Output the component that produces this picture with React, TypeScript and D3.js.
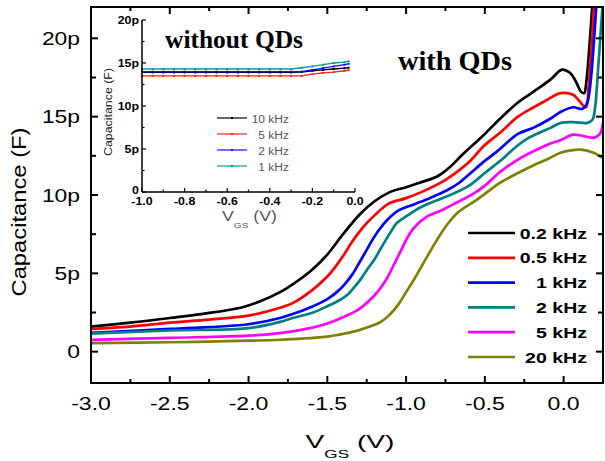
import React from 'react';
import * as d3 from 'd3';

// main plot: capacitance (pF) vs V_GS (V), one list per frequency
const c02kHz: [number, number][] = [
  [-3.0, 1.6], [-2.75, 1.85], [-2.5, 2.15], [-2.3, 2.4], [-2.05, 2.8], [-1.93, 3.2], [-1.8, 3.8],
  [-1.72, 4.3], [-1.6, 5.2], [-1.5, 6.2], [-1.4, 7.5], [-1.29, 8.8], [-1.2, 9.6], [-1.1, 10.2],
  [-1.0, 10.5], [-0.91, 10.8], [-0.8, 11.2], [-0.72, 11.8], [-0.64, 12.6], [-0.51, 13.8],
  [-0.4, 14.9], [-0.29, 15.9], [-0.19, 16.6], [-0.08, 17.4], [-0.01, 18.0], [0.04, 17.8],
  [0.08, 17.2], [0.11, 16.6], [0.13, 16.5], [0.145, 17.3], [0.16, 19.0], [0.185, 22.5]
];
const c05kHz: [number, number][] = [
  [-3.0, 1.45], [-2.75, 1.6], [-2.5, 1.85], [-2.25, 2.05], [-2.0, 2.3], [-1.8, 2.8], [-1.72, 3.1],
  [-1.6, 3.9], [-1.5, 4.8], [-1.45, 5.4], [-1.4, 6.1], [-1.35, 6.9], [-1.3, 7.6], [-1.25, 8.2],
  [-1.2, 8.7], [-1.145, 9.2], [-1.1, 9.5], [-1.0, 9.8], [-0.9, 10.2], [-0.76, 10.9], [-0.66, 11.6],
  [-0.59, 12.2], [-0.51, 13.1], [-0.45, 13.6], [-0.4, 14.0], [-0.29, 15.0], [-0.19, 15.6],
  [-0.1, 16.1], [-0.02, 16.5], [0.06, 16.4], [0.1, 16.0], [0.14, 15.6], [0.16, 17.1], [0.195, 22.5]
];
const c1kHz: [number, number][] = [
  [-3.0, 1.2], [-2.5, 1.45], [-2.0, 1.75], [-1.8, 2.15], [-1.72, 2.4], [-1.59, 2.9], [-1.5, 3.35],
  [-1.44, 3.8], [-1.39, 4.3], [-1.34, 4.95], [-1.29, 5.8], [-1.25, 6.5], [-1.21, 7.2], [-1.17, 7.8],
  [-1.12, 8.4], [-1.05, 9.0], [-0.95, 9.4], [-0.85, 9.8], [-0.74, 10.3], [-0.66, 10.8],
  [-0.59, 11.4], [-0.51, 12.1], [-0.42, 12.8], [-0.29, 13.9], [-0.19, 14.3], [-0.08, 14.9],
  [-0.02, 15.3], [0.06, 15.6], [0.12, 15.5], [0.15, 15.9], [0.17, 17.1], [0.21, 22.5]
];
const c2kHz: [number, number][] = [
  [-3.0, 1.15], [-2.5, 1.35], [-2.0, 1.5], [-1.8, 1.9], [-1.72, 2.15], [-1.59, 2.5], [-1.5, 2.9],
  [-1.42, 3.3], [-1.37, 3.65], [-1.33, 4.1], [-1.29, 4.6], [-1.25, 5.2], [-1.2, 5.9], [-1.16, 6.6],
  [-1.1, 7.6], [-1.06, 8.2], [-0.99, 8.7], [-0.91, 9.2], [-0.82, 9.6], [-0.72, 10.0], [-0.6, 10.6],
  [-0.5, 11.4], [-0.4, 12.2], [-0.3, 13.1], [-0.23, 13.6], [-0.147, 14.0], [-0.08, 14.3],
  [-0.02, 14.6], [0.06, 14.65], [0.15, 14.6], [0.183, 14.8], [0.2, 15.6], [0.22, 18.2], [0.25, 22.5]
];
const c5kHz: [number, number][] = [
  [-3.0, 0.75], [-2.5, 0.88], [-2.0, 1.02], [-1.8, 1.18], [-1.61, 1.5], [-1.5, 1.8], [-1.4, 2.2],
  [-1.3, 2.7], [-1.25, 3.1], [-1.2, 3.6], [-1.16, 4.1], [-1.12, 4.7], [-1.08, 5.5], [-1.04, 6.3],
  [-0.99, 7.3], [-0.95, 7.9], [-0.87, 8.6], [-0.78, 9.0], [-0.7, 9.4], [-0.57, 10.1], [-0.5, 10.6],
  [-0.4, 11.5], [-0.3, 12.2], [-0.23, 12.6], [-0.147, 13.0], [-0.08, 13.3], [-0.02, 13.5],
  [0.06, 13.85], [0.11, 13.8], [0.19, 13.65], [0.23, 13.9], [0.25, 14.6]
];
const c20kHz: [number, number][] = [
  [-3.0, 0.55], [-2.5, 0.6], [-2.0, 0.7], [-1.8, 0.76], [-1.5, 0.96], [-1.37, 1.2], [-1.29, 1.4],
  [-1.16, 1.9], [-1.1, 2.4], [-1.05, 3.0], [-1.0, 3.8], [-0.95, 4.6], [-0.87, 6.0], [-0.8, 7.2],
  [-0.74, 8.1], [-0.67, 8.9], [-0.55, 9.7], [-0.47, 10.3], [-0.4, 10.8], [-0.29, 11.4],
  [-0.19, 11.9], [-0.1, 12.3], [-0.02, 12.7], [0.05, 12.85], [0.11, 12.9], [0.19, 12.7], [0.25, 12.35]
];

const mainLabels = ['0.2 kHz', '0.5 kHz', '1 kHz', '2 kHz', '5 kHz', '20 kHz'];
const mainColors = ['#000000', '#ff0000', '#0000ff', '#008080', '#ff00ff', '#808000'];
const mainSeries = [c02kHz, c05kHz, c1kHz, c2kHz, c5kHz, c20kHz];

// inset: without QDs
const insetV = [-1.0, -0.95, -0.9, -0.85, -0.8, -0.75, -0.7, -0.65, -0.6, -0.55, -0.5, -0.45, -0.4, -0.35, -0.3, -0.25, -0.2, -0.15, -0.1, -0.05, -0.03];
const in10kHz = [13.9, 13.9, 13.9, 13.9, 13.9, 13.9, 13.9, 13.9, 13.9, 13.9, 13.9, 13.9, 13.9, 13.9, 13.9, 13.95, 14.1, 14.2, 14.3, 14.4, 14.45];
const in5kHz = [13.5, 13.5, 13.5, 13.5, 13.5, 13.5, 13.5, 13.5, 13.5, 13.5, 13.5, 13.5, 13.5, 13.5, 13.5, 13.5, 13.7, 13.85, 13.95, 14.1, 14.15];
const in2kHz = [14.0, 14.0, 14.0, 14.0, 14.0, 14.0, 14.0, 14.0, 14.0, 14.0, 14.0, 14.0, 14.0, 14.0, 14.0, 14.0, 14.2, 14.4, 14.6, 14.8, 14.9];
const in1kHz = [14.3, 14.3, 14.3, 14.3, 14.3, 14.3, 14.3, 14.3, 14.3, 14.3, 14.3, 14.3, 14.3, 14.3, 14.3, 14.45, 14.6, 14.8, 15.0, 15.1, 15.2];
const insetLabels = ['10 kHz', '5 kHz', '2 kHz', '1 kHz'];
const insetColors = ['#000000', '#ff2020', '#1010ff', '#109a9a'];
const insetSeries = [in10kHz, in5kHz, in2kHz, in1kHz];

const xTicks = [-3.0, -2.5, -2.0, -1.5, -1.0, -0.5, 0.0];
const yTicks = [0, 5, 10, 15, 20];
const insetXTicks = [-1.0, -0.8, -0.6, -0.4, -0.2, 0.0];
const insetYTicks = [0, 5, 10, 15, 20];

const W = 605, H = 461;
const L = 91, R = 603, T = 7, B = 383;

export default function App() {
  const x = d3.scaleLinear().domain([-3, 0.25]).range([L, R]);
  const y = d3.scaleLinear().domain([-2, 22]).range([B, T]);
  const line = d3.line<[number, number]>()
    .x(d => x(d[0]))
    .y(d => y(d[1]))
    .curve(d3.curveCatmullRom.alpha(0.5));

  const ix = d3.scaleLinear().domain([-1, 0]).range([142, 355]);
  const iy = d3.scaleLinear().domain([0, 20]).range([192, 20]);
  const iline = d3.line<number>()
    .x((d, i) => ix(insetV[i]))
    .y(d => iy(d));

  const xMinor = d3.range(-3, 0.26, 0.25);
  const yMinor = d3.range(-2.5, 22.1, 2.5).filter(v => v > -2);
  const ixMinor = d3.range(-1, 0.001, 0.1);
  const iyMinor = d3.range(0, 20.1, 2.5);

  const font = 'Arial, "Liberation Sans", sans-serif';
  const serif = '"Times New Roman", "Liberation Serif", serif';

  return (
    <svg width={W} height={H} style={{ position: 'absolute', left: 0, top: 0, background: '#fff' }}>
      <defs>
        <clipPath id="plot">
          <rect x={L} y={T} width={R - L} height={B - T} />
        </clipPath>
      </defs>
      <rect width={W} height={H} fill="#fff" />

      {/* curves */}
      <g clipPath="url(#plot)">
        {mainSeries.map((s, i) => (
          <path key={i} d={line(s) || ''} fill="none" stroke={mainColors[i]} strokeWidth={2.7} strokeLinejoin="round" />
        ))}
      </g>

      {/* frame and ticks */}
      <rect x={L} y={T} width={R - L} height={B - T} fill="none" stroke="#000" strokeWidth={2} />
      {xMinor.map((v, i) => {
        const len = Math.abs(v * 2 - Math.round(v * 2)) < 1e-6 ? 7 : 4;
        return (
          <g key={'xt' + i}>
            <line x1={x(v)} x2={x(v)} y1={B} y2={B - len} stroke="#000" strokeWidth={2} />
            <line x1={x(v)} x2={x(v)} y1={T} y2={T + len} stroke="#000" strokeWidth={2} />
          </g>
        );
      })}
      {yMinor.map((v, i) => {
        const len = Math.abs(v / 5 - Math.round(v / 5)) < 1e-6 ? 7 : 5;
        return (
          <g key={'yt' + i}>
            <line x1={L} x2={L + len} y1={y(v)} y2={y(v)} stroke="#000" strokeWidth={2} />
            <line x1={R} x2={R - len} y1={y(v)} y2={y(v)} stroke="#000" strokeWidth={2} />
          </g>
        );
      })}
      {xTicks.map(v => (
        <text key={'xl' + v} transform={`translate(${x(v)},410) scale(1.28,1)`} textAnchor="middle"
          fontFamily={font} fontSize={18}>{v.toFixed(1)}</text>
      ))}
      {yTicks.map(v => (
        <text key={'yl' + v} transform={`translate(80,${y(v) + 6.5}) scale(1.27,1)`} textAnchor="end"
          fontFamily={font} fontSize={18}>{v === 0 ? '0' : v + 'p'}</text>
      ))}
      <text transform="translate(26,212) rotate(-90)" textAnchor="middle" fontFamily={font} fontSize={20}
        textLength={169} lengthAdjust="spacingAndGlyphs">Capacitance (F)</text>
      <text x={350} y={448} textAnchor="middle" fontFamily={font} fontSize={18}
        textLength={89} lengthAdjust="spacingAndGlyphs">V<tspan fontSize={11} dy={10}>GS</tspan><tspan dy={-10}> (V)</tspan></text>

      <text x={398} y={70} fontFamily={serif} fontWeight="bold" fontSize={28}
        textLength={114} lengthAdjust="spacingAndGlyphs">with QDs</text>

      {/* main legend */}
      {mainLabels.map((lab, i) => {
        const ly = 233 + i * 24.8;
        return (
          <g key={'lg' + i}>
            <line x1={468} x2={515} y1={ly} y2={ly} stroke={mainColors[i]} strokeWidth={2.7} />
            <text transform={`translate(587,${ly + 5.5}) scale(1.26,1)`} textAnchor="end"
              fontFamily={font} fontWeight="bold" fontSize={15.5}>{lab}</text>
          </g>
        );
      })}

      {/* inset */}
      <g>
        {insetSeries.map((s, i) => (
          <g key={'is' + i}>
            <path d={iline(s) || ''} fill="none" stroke={insetColors[i]} strokeWidth={1.3} />
            {s.map((c, j) => (
              <rect key={j} x={ix(insetV[j]) - 1} y={iy(c) - 1} width={2} height={2} fill={insetColors[i]} />
            ))}
          </g>
        ))}
        <line x1={142} x2={142} y1={20} y2={192} stroke="#000" strokeWidth={1.5} />
        <line x1={142} x2={355} y1={192} y2={192} stroke="#000" strokeWidth={1.5} />
        {ixMinor.map((v, i) => (
          <line key={'ixt' + i} x1={ix(v)} x2={ix(v)} y1={192} y2={192 - (i % 2 === 0 ? 4 : 2.5)} stroke="#000" strokeWidth={1.2} />
        ))}
        {iyMinor.map((v, i) => (
          <line key={'iyt' + i} x1={142} x2={142 + (i % 2 === 0 ? 4 : 2.5)} y1={iy(v)} y2={iy(v)} stroke="#000" strokeWidth={1.2} />
        ))}
        {insetXTicks.map(v => (
          <text key={'ixl' + v} transform={`translate(${ix(v)},205) scale(1.24,1)`} textAnchor="middle"
            fontFamily={font} fontWeight="bold" fontSize={10}>{v.toFixed(1)}</text>
        ))}
        {insetYTicks.map(v => (
          <text key={'iyl' + v} transform={`translate(139,${iy(v) + (v === 0 ? 2 : 4)}) scale(1.24,1)`} textAnchor="end"
            fontFamily={font} fontWeight="bold" fontSize={10}>{v === 0 ? '0' : v + 'p'}</text>
        ))}
        <text transform="translate(112,112) rotate(-90)" textAnchor="middle" fontFamily={font} fontSize={10}
          textLength={88} lengthAdjust="spacingAndGlyphs" fill="#222">Capacitance (F)</text>
        <text x={249.5} y={221} textAnchor="middle" fontFamily={font} fontSize={14} fill="#555"
          textLength={55} lengthAdjust="spacingAndGlyphs">V<tspan fontSize={8} dy={7}>GS</tspan><tspan dy={-7}> (V)</tspan></text>
        <text x={165} y={48} fontFamily={serif} fontWeight="bold" fontSize={25}
          textLength={138} lengthAdjust="spacingAndGlyphs">without QDs</text>
        {insetLabels.map((lab, i) => {
          const ly = 118 + i * 16;
          return (
            <g key={'ilg' + i}>
              <line x1={217} x2={247} y1={ly} y2={ly} stroke={insetColors[i]} strokeWidth={1.2} />
              <rect x={231} y={ly - 1} width={2} height={2} fill={insetColors[i]} />
              <text transform={`translate(289,${ly + 4.5}) scale(1.09,1)`} textAnchor="end"
                fontFamily={font} fontSize={11} fill="#555">{lab}</text>
            </g>
          );
        })}
      </g>
    </svg>
  );
}
